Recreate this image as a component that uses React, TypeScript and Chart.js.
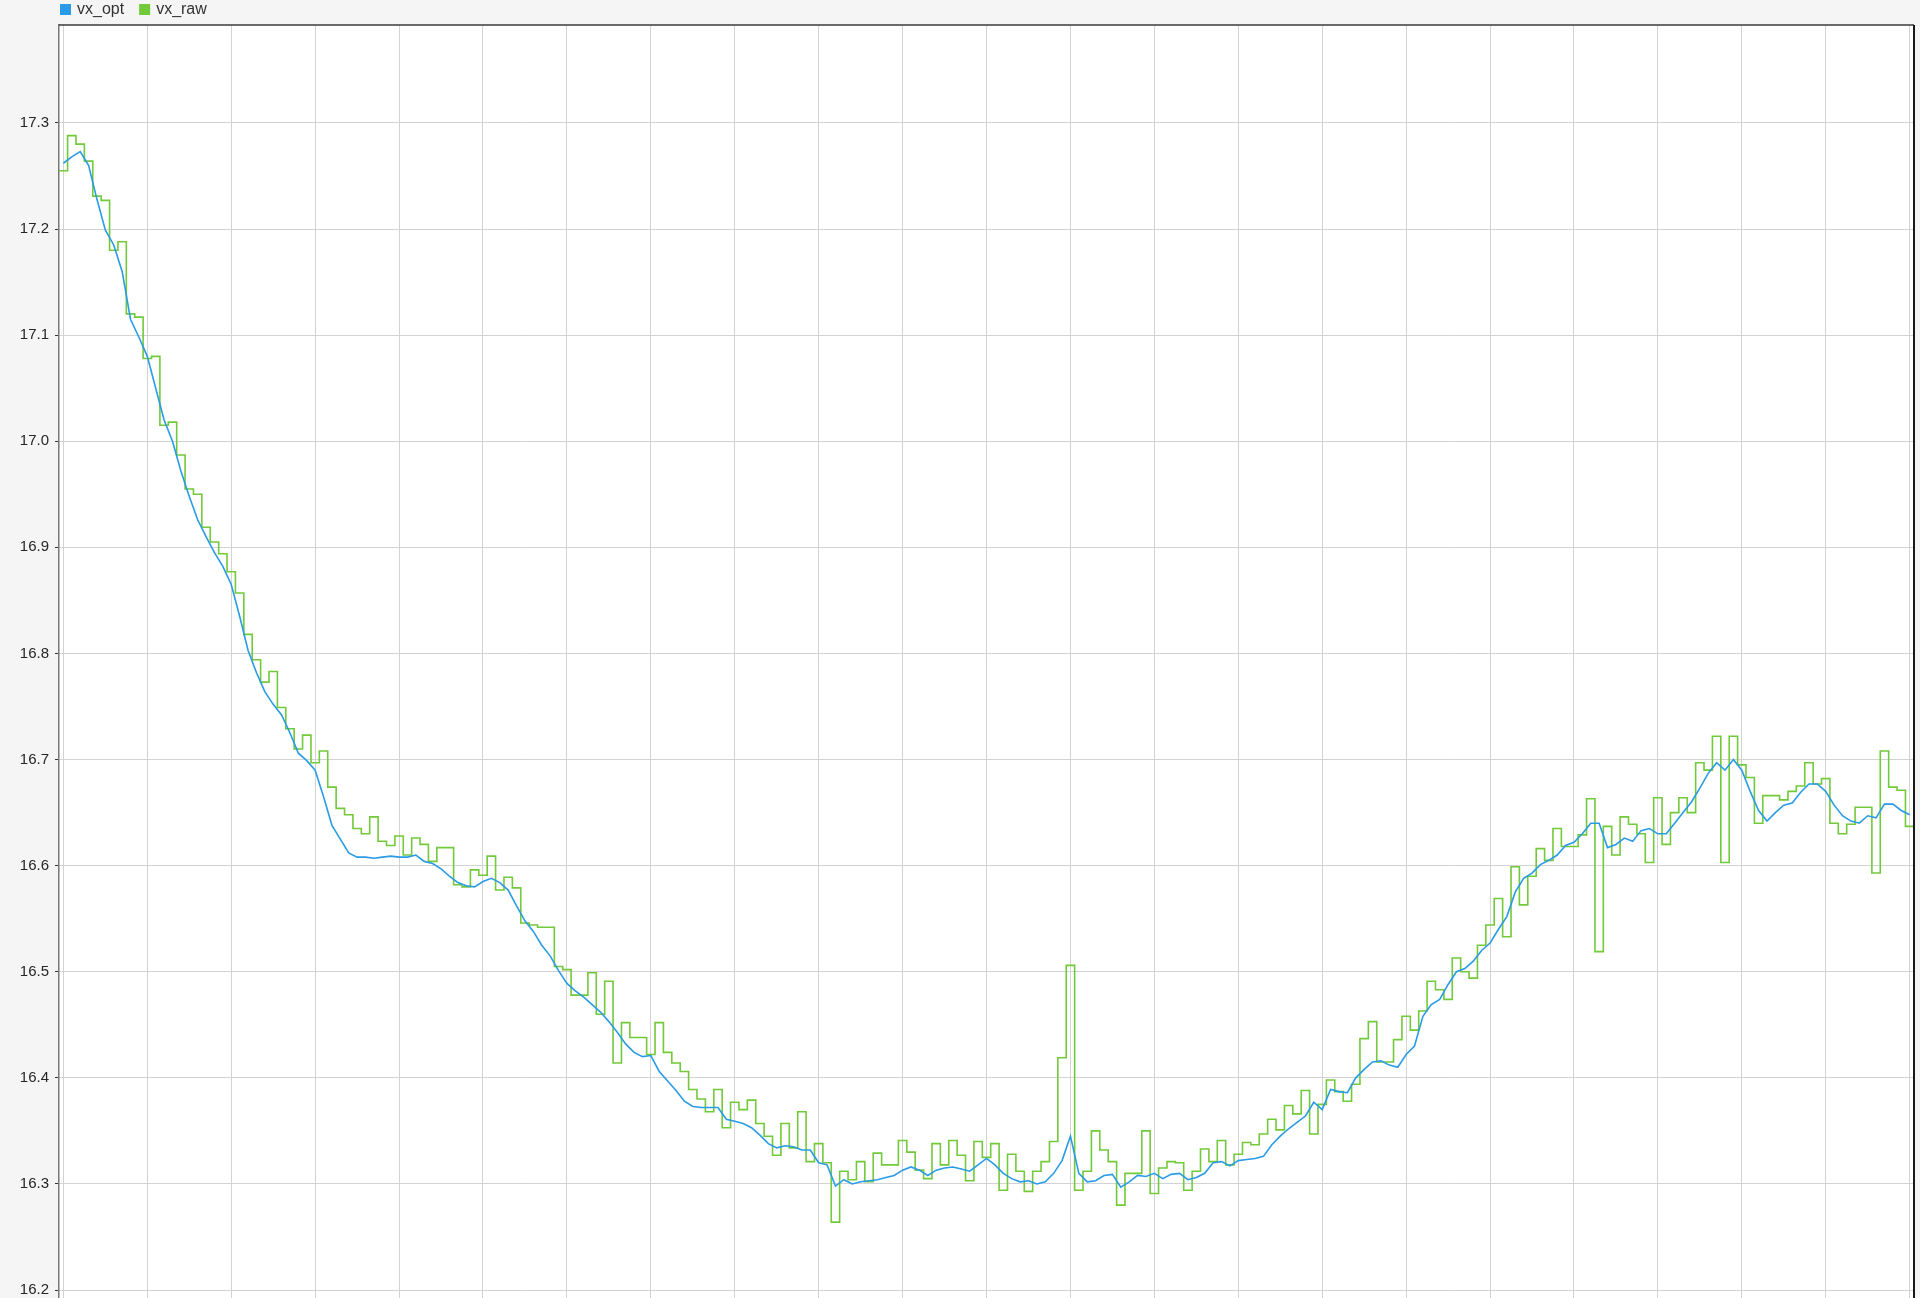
import React, { useEffect, useRef } from "react";
import { Chart, registerables } from "chart.js";

Chart.register(...registerables);

// sample time axis: one value every 0.1 grid unit, starting at 0
const SAMPLE_START = 0;
const SAMPLE_STEP = 0.1;

const seriesNames = ["vx_opt", "vx_raw"];
const seriesColors = ["#2a9be6", "#72c93a"];

const vxOpt = [
  17.262, 17.268, 17.273, 17.26, 17.228, 17.199, 17.185, 17.16, 17.115, 17.098,
  17.08, 17.05, 17.02, 17.0, 16.972, 16.948, 16.926, 16.91, 16.895, 16.882,
  16.865, 16.835, 16.803, 16.782, 16.764, 16.752, 16.742, 16.725, 16.706, 16.699,
  16.69, 16.665, 16.638, 16.625, 16.612, 16.608, 16.608, 16.607, 16.608, 16.609,
  16.608, 16.608, 16.61, 16.604, 16.602, 16.597, 16.59, 16.584, 16.581, 16.58,
  16.585, 16.588, 16.584, 16.577, 16.562, 16.548, 16.538, 16.525, 16.515, 16.501,
  16.489, 16.482, 16.476, 16.469, 16.462, 16.453, 16.443, 16.432, 16.424, 16.42,
  16.421, 16.406, 16.397, 16.388, 16.378, 16.373, 16.372, 16.372, 16.372, 16.361,
  16.359, 16.357, 16.353, 16.346, 16.338, 16.334, 16.336, 16.335, 16.332, 16.332,
  16.32, 16.318, 16.298, 16.304, 16.3, 16.302, 16.303, 16.304, 16.306, 16.308,
  16.313, 16.316, 16.313, 16.308, 16.313, 16.315, 16.316, 16.314, 16.312, 16.318,
  16.324, 16.318, 16.31, 16.305, 16.302, 16.303, 16.3, 16.302, 16.31, 16.322,
  16.345, 16.31, 16.302, 16.303, 16.308, 16.309, 16.297, 16.302, 16.308, 16.307,
  16.31, 16.305, 16.309, 16.31, 16.304, 16.306, 16.31, 16.32, 16.321, 16.317,
  16.322, 16.323, 16.324, 16.326, 16.337, 16.345, 16.352, 16.358, 16.364, 16.377,
  16.37, 16.389, 16.387, 16.386, 16.4, 16.408, 16.415, 16.416, 16.412, 16.41,
  16.422, 16.43, 16.458, 16.469, 16.474, 16.488, 16.5, 16.503, 16.51, 16.52,
  16.527, 16.54, 16.552, 16.575, 16.588, 16.593, 16.601, 16.605, 16.61, 16.619,
  16.622, 16.63, 16.64, 16.64, 16.617, 16.62, 16.626, 16.623, 16.633, 16.635,
  16.63, 16.63, 16.64, 16.65, 16.66, 16.673, 16.687, 16.697, 16.69, 16.7,
  16.69, 16.67, 16.652, 16.642, 16.65, 16.657, 16.659, 16.669, 16.677, 16.677,
  16.67, 16.657, 16.647, 16.642, 16.64, 16.647, 16.645, 16.658, 16.658, 16.652,
  16.648,
];

const vxRaw = [
  17.255, 17.288, 17.28, 17.264, 17.231, 17.227, 17.18, 17.188, 17.12, 17.117,
  17.078, 17.08, 17.015, 17.018, 16.987, 16.955, 16.95, 16.919, 16.905, 16.894,
  16.877, 16.857, 16.818, 16.794, 16.773, 16.783, 16.749, 16.729, 16.71, 16.723,
  16.697, 16.708, 16.674, 16.654, 16.648, 16.635, 16.63, 16.646, 16.623, 16.619,
  16.628, 16.61, 16.626, 16.62, 16.604, 16.617, 16.617, 16.582, 16.58, 16.596,
  16.591, 16.609, 16.577, 16.589, 16.579, 16.546, 16.544, 16.542, 16.542, 16.505,
  16.502, 16.478, 16.478, 16.499, 16.46, 16.491, 16.414, 16.452, 16.438, 16.438,
  16.422, 16.452, 16.424, 16.414, 16.406, 16.389, 16.38, 16.368, 16.389, 16.353,
  16.377, 16.37, 16.379, 16.357, 16.345, 16.327, 16.357, 16.334, 16.368, 16.321,
  16.338, 16.32, 16.264, 16.312, 16.304, 16.321, 16.302, 16.329, 16.318, 16.318,
  16.341, 16.33, 16.313, 16.305, 16.338, 16.318, 16.341, 16.327, 16.303, 16.34,
  16.325, 16.338, 16.294, 16.328, 16.312, 16.293, 16.312, 16.321, 16.34, 16.419,
  16.506, 16.294, 16.312, 16.35, 16.332, 16.321, 16.28, 16.31, 16.31, 16.35,
  16.291, 16.315, 16.321, 16.32, 16.294, 16.312, 16.333, 16.321, 16.341, 16.318,
  16.328, 16.339, 16.337, 16.347, 16.361, 16.351, 16.374, 16.366, 16.388, 16.347,
  16.375, 16.398, 16.387, 16.378, 16.394, 16.437, 16.453, 16.415, 16.415, 16.436,
  16.458, 16.445, 16.463, 16.491, 16.483, 16.474, 16.513, 16.5, 16.494, 16.525,
  16.544, 16.569, 16.533, 16.599, 16.563, 16.59, 16.616, 16.605, 16.635, 16.618,
  16.618, 16.629, 16.663, 16.519, 16.637, 16.61, 16.646, 16.639, 16.63, 16.603,
  16.664, 16.62, 16.65, 16.664, 16.65, 16.697, 16.69, 16.722, 16.603, 16.722,
  16.695, 16.683, 16.64, 16.666, 16.666, 16.662, 16.67, 16.675, 16.697, 16.677,
  16.682, 16.64, 16.63, 16.639, 16.655, 16.655, 16.593, 16.708, 16.674, 16.671,
  16.637,
];

const yTickValues = [16.2, 16.3, 16.4, 16.5, 16.6, 16.7, 16.8, 16.9, 17.0, 17.1, 17.2, 17.3];
const xGridValues = [0, 1, 2, 3, 4, 5, 6, 7, 8, 9, 10, 11, 12, 13, 14, 15, 16, 17, 18, 19, 20, 21, 22];

const FONT = '"Liberation Sans", Arial, sans-serif';

const backgroundPlugin = {
  id: "bgPlugin",
  beforeDraw(chart: any) {
    const { ctx, chartArea } = chart;
    ctx.save();
    ctx.fillStyle = "#f5f5f5";
    ctx.fillRect(0, 0, chart.width, chart.height);
    ctx.fillStyle = "#ffffff";
    ctx.fillRect(chartArea.left, chartArea.top, chartArea.right - chartArea.left, chartArea.bottom - chartArea.top);
    ctx.restore();
  },
  afterDraw(chart: any) {
    const { ctx, chartArea } = chart;
    ctx.save();
    ctx.strokeStyle = "#3a3a3a";
    ctx.lineWidth = 1.5;
    ctx.beginPath();
    ctx.moveTo(chartArea.left, chartArea.top);
    ctx.lineTo(chartArea.right, chartArea.top);
    ctx.stroke();
    ctx.strokeStyle = "#1a1a1a";
    ctx.lineWidth = 2;
    ctx.beginPath();
    ctx.moveTo(chartArea.right, chartArea.top);
    ctx.lineTo(chartArea.right, chartArea.bottom);
    ctx.stroke();
    // legend
    ctx.font = `16px ${FONT}`;
    ctx.textBaseline = "middle";
    ctx.textAlign = "left";
    let x = 60;
    seriesNames.forEach((name, i) => {
      ctx.fillStyle = seriesColors[i];
      ctx.fillRect(x, 4, 11, 11);
      ctx.fillStyle = "#333333";
      ctx.fillText(name, x + 17, 10);
      x += 17 + ctx.measureText(name).width + 15;
    });
    ctx.restore();
  },
};

export default function App() {
  const ref = useRef<HTMLCanvasElement>(null);

  useEffect(() => {
    if (!ref.current) return;
    const optData = vxOpt.map((v, i) => ({ x: SAMPLE_START + i * SAMPLE_STEP, y: v }));
    const rawData = vxRaw.map((v, i) => ({ x: SAMPLE_START + i * SAMPLE_STEP - SAMPLE_STEP / 2, y: v }));
    rawData.push({
      x: SAMPLE_START + vxRaw.length * SAMPLE_STEP - SAMPLE_STEP / 2,
      y: vxRaw[vxRaw.length - 1],
    });

    const chart = new Chart(ref.current, {
      type: "line",
      data: {
        datasets: [
          {
            label: seriesNames[0],
            data: optData,
            borderColor: seriesColors[0],
            backgroundColor: seriesColors[0],
            borderWidth: 1.6,
            pointRadius: 0,
            tension: 0,
            fill: false,
          },
          {
            label: seriesNames[1],
            data: rawData,
            borderColor: seriesColors[1],
            backgroundColor: seriesColors[1],
            borderWidth: 1.6,
            pointRadius: 0,
            stepped: "before",
            fill: false,
          },
        ],
      },
      options: {
        animation: false,
        responsive: false,
        devicePixelRatio: 1,
        events: [],
        layout: { padding: { top: 25, right: 6, bottom: 0, left: 0 } },
        plugins: {
          legend: { display: false },
          tooltip: { enabled: false },
        },
        scales: {
          x: {
            type: "linear",
            min: -0.0524,
            max: 22.052,
            afterBuildTicks: (s: any) => {
              s.ticks = xGridValues.map((v) => ({ value: v }));
            },
            afterFit: (s: any) => {
              s.height = 0;
              s.paddingLeft = 0;
              s.paddingRight = 0;
            },
            ticks: { display: false },
            grid: { color: "#d3d3d3", lineWidth: 1, drawTicks: false },
            border: { display: false },
          },
          y: {
            type: "linear",
            min: 16.1925,
            max: 17.3923,
            afterBuildTicks: (s: any) => {
              s.ticks = yTickValues.map((v) => ({ value: v }));
            },
            afterFit: (s: any) => {
              s.width = 59;
              s.paddingTop = 0;
              s.paddingBottom = 0;
            },
            ticks: {
              color: "#262626",
              font: { size: 15, family: FONT },
              padding: 6,
              callback: (v: any) => Number(v).toFixed(1),
            },
            grid: { color: "#d3d3d3", lineWidth: 1, tickColor: "#333333", tickLength: 4 },
            border: { color: "#777777", width: 1.5 },
          },
        },
      },
      plugins: [backgroundPlugin],
    });
    return () => chart.destroy();
  }, []);

  return (
    <div style={{ position: "fixed", left: 0, top: 0, width: 1920, height: 1298, overflow: "hidden" }}>
      <canvas ref={ref} width={1920} height={1298} style={{ display: "block", width: 1920, height: 1298 }} />
    </div>
  );
}
